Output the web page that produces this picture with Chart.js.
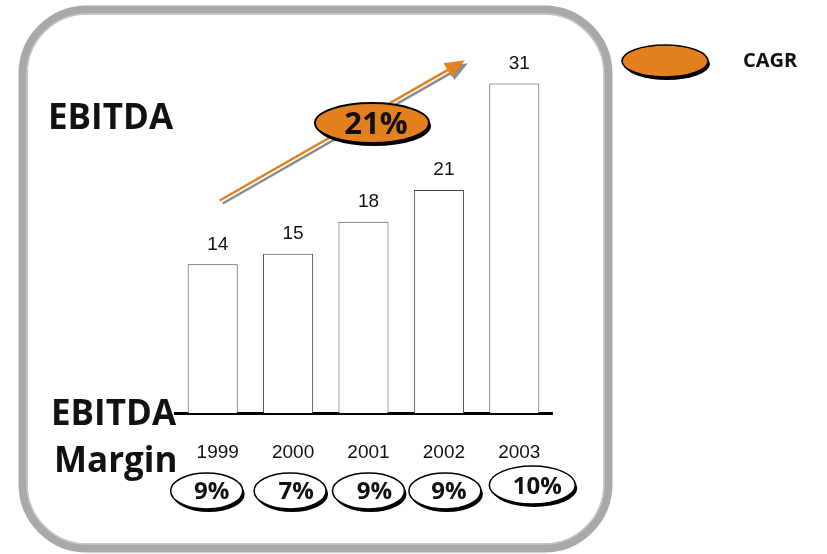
<!DOCTYPE html>
<html lang="en">

  <head>
    <meta charset="UTF-8">
    <title>EBITDA</title>
    <script src="https://cdn.jsdelivr.net/npm/chart.js"></script>
    <style>
      body { margin: 0; background: #fff; }
      #chartBox { width: 827px; height: 554px; }
    </style>
  </head>

  <body>
    <div id="chartBox">
      <canvas id="ebitdaChart" width="827" height="554"></canvas>
    </div>

    <script>
      // data
      const years = ['1999', '2000', '2001', '2002', '2003'];
      const ebitda = [14, 15, 18, 21, 31];
      const margins = [9, 7, 9, 9, 10];   // EBITDA margin, %
      const cagr = 21;                    // %

      const orange = '#E5801F';
      const boldFont = '"Open Sans", "Noto Sans", sans-serif';

      function ellipse(ctx, x, y, rx, ry, fill, stroke, lw) {
        // shadow first, offset down-right
        ctx.beginPath();
        ctx.ellipse(x + 2, y + 3, rx, ry, 0, 0, Math.PI * 2);
        ctx.fillStyle = '#000';
        ctx.fill();
        ctx.beginPath();
        ctx.ellipse(x, y, rx, ry, 0, 0, Math.PI * 2);
        ctx.fillStyle = fill;
        ctx.fill();
        ctx.lineWidth = lw;
        ctx.strokeStyle = stroke;
        ctx.stroke();
      }

      // frame, titles, arrow, bubbles
      const decorations = {
        id: 'decorations',
        beforeDraw(chart) {
          const ctx = chart.ctx;
          ctx.save();
          ctx.fillStyle = '#fff';
          ctx.fillRect(0, 0, chart.width, chart.height);
          ctx.beginPath();
          ctx.roundRect(23, 10, 585, 538, 64);
          ctx.lineWidth = 9;
          ctx.strokeStyle = '#a9a9a9';
          ctx.stroke();
          ctx.beginPath();
          ctx.roundRect(27, 14, 577, 530, 60);
          ctx.lineWidth = 1.5;
          ctx.strokeStyle = '#c8c8c8';
          ctx.stroke();
          ctx.restore();
        },
        afterDraw(chart) {
          const ctx = chart.ctx;
          const xs = chart.scales.x, ys = chart.scales.y;
          ctx.save();

          // growth arrow, anchored on the scales
          const x0 = xs.getPixelForValue(0) + 7, y0 = ys.getPixelForValue(20);
          const x1 = xs.getPixelForValue(3) + 26, y1 = ys.getPixelForValue(33.2);
          const ang = Math.atan2(y1 - y0, x1 - x0);
          const drawArrow = (dx, dy, col) => {
            const hx = x1 + dx, hy = y1 + dy;
            const bx = hx - 20 * Math.cos(ang), by = hy - 20 * Math.sin(ang);
            ctx.beginPath();
            ctx.moveTo(x0 + dx, y0 + dy);
            ctx.lineTo(bx, by);
            ctx.lineWidth = 2.5;
            ctx.strokeStyle = col;
            ctx.stroke();
            ctx.beginPath();
            ctx.moveTo(hx, hy);
            ctx.lineTo(bx + 8 * Math.sin(ang), by - 8 * Math.cos(ang));
            ctx.lineTo(bx - 8 * Math.sin(ang), by + 8 * Math.cos(ang));
            ctx.closePath();
            ctx.fillStyle = col;
            ctx.fill();
          };
          drawArrow(3, 3, '#8c8c8c');
          drawArrow(0, 0, orange);

          // CAGR bubble
          ellipse(ctx, 372, 123, 57, 20, orange, '#000', 2);
          ctx.fillStyle = '#111';
          ctx.textAlign = 'center';
          ctx.textBaseline = 'middle';
          ctx.font = `bold 31px ${boldFont}`;
          ctx.fillText(cagr + '%', 376, 125);

          // legend
          ellipse(ctx, 665, 61, 43, 16, orange, '#000', 1.5);
          ctx.fillStyle = '#111';
          ctx.font = `bold 20px ${boldFont}`;
          ctx.textAlign = 'left';
          ctx.fillText('CAGR', 743, 61);

          // titles
          ctx.font = `bold 35px ${boldFont}`;
          ctx.fillText('EBITDA', 48, 119);
          ctx.fillText('EBITDA', 51, 415);
          ctx.fillText('Margin', 54, 462);

          // margin bubbles under each year
          const eOff = [-6, 2, 5, 6, 18];
          const tOff = [-1, 8, 11, 10, 23];
          margins.forEach((m, i) => {
            const cx = xs.getPixelForValue(i);
            const last = i === margins.length - 1;
            ellipse(ctx, cx + eOff[i], last ? 485 : 491, last ? 43 : 36, last ? 19 : 18, '#fff', '#000', 1.5);
            ctx.font = `bold 24px ${boldFont}`;
            ctx.textAlign = 'center';
            ctx.fillStyle = '#111';
            ctx.fillText(m + '%', cx + tOff[i], last ? 487 : 492);
          });
          ctx.restore();
        }
      };

      const valueLabels = {
        id: 'valueLabels',
        afterDatasetsDraw(chart) {
          const ctx = chart.ctx;
          ctx.save();
          ctx.font = '19px "Liberation Sans", Arial, sans-serif';
          ctx.fillStyle = '#111';
          ctx.textAlign = 'center';
          ctx.textBaseline = 'middle';
          chart.getDatasetMeta(0).data.forEach((bar, i) => {
            ctx.fillText(ebitda[i], bar.x + 5, bar.y - 20);
          });
          ctx.restore();
        }
      };

      const ctx = document.getElementById('ebitdaChart').getContext('2d');
      new Chart(ctx, {
        type: 'bar',
        data: {
          labels: years,
          datasets: [{
            label: 'EBITDA',
            data: ebitda,
            backgroundColor: '#fff',
            borderColor: '#444',
            borderWidth: 1,
            categoryPercentage: 1,
            barPercentage: 0.664
          }]
        },
        options: {
          responsive: false,
          animation: false,
          layout: {
            padding: { left: 175, right: 275, top: 41, bottom: 62 }
          },
          plugins: {
            legend: { display: false },
            tooltip: { enabled: false }
          },
          scales: {
            x: {
              grid: { display: false, drawTicks: false },
              border: { display: true, color: '#000', width: 3 },
              ticks: {
                color: '#111',
                padding: 28,
                labelOffset: 5,
                font: { family: '"Liberation Sans", Arial, sans-serif', size: 19 }
              }
            },
            y: {
              display: false,
              min: 0,
              max: 35
            }
          }
        },
        plugins: [decorations, valueLabels]
      });
    </script>
  </body>

</html>
